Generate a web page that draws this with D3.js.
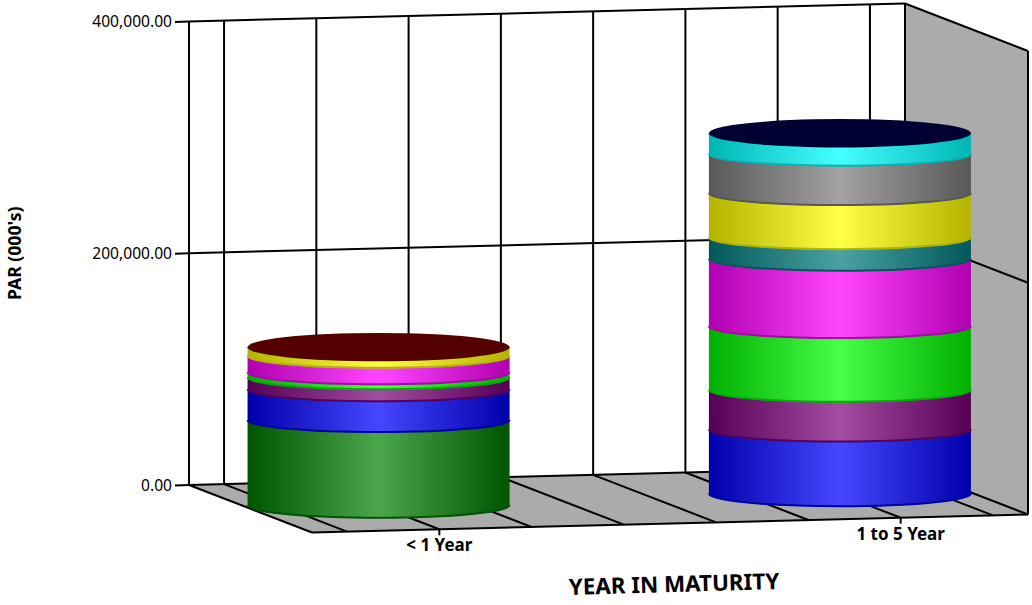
<!DOCTYPE html>
<html>
<head>
<meta charset="utf-8">
<script src="https://cdn.jsdelivr.net/npm/d3@7/dist/d3.min.js"></script>
<style>
  html, body { margin: 0; padding: 0; background: #fff; }
  svg { display: block; }
  text { font-family: "Noto Sans", sans-serif; fill: #000; }
</style>
</head>
<body>
<svg width="1032" height="605"></svg>
<script>
// data
var categories = ["< 1 Year", "1 to 5 Year"];
var categorySlots = [0, 5];
var gridSlots = [-1, 0, 1, 2, 3, 4, 5, 6];
var yTicks = [0, 200000, 400000];

// stacked bottom to top
var darkGreen = [73400, 0];
var blue = [26500, 55200];
var purple = [10400, 34300];
var green = [4300, 54900];
var magenta = [14300, 58200];
var teal = [0, 18600];
var yellow = [7800, 38000];
var gray = [0, 34000];
var cyan = [0, 18100];

var seriesValues = [darkGreen, blue, purple, green, magenta, teal, yellow, gray, cyan];
var edgeColors = ["#005500", "#0000aa", "#550055", "#00b000", "#b000b0", "#005858", "#b4b400", "#585858", "#00b4b4"];
var midColors = ["#4ca64c", "#4646ff", "#a24ca2", "#46ff46", "#ff46ff", "#4ca2a2", "#ffff46", "#a2a2a2", "#46ffff"];
var capColors = ["#550000", "#000033"];

var svg = d3.select("svg");

// oblique box: x along the back wall, z towards the viewer, y up
var x = d3.scaleLinear().domain([-1.38, 6.38]).range([0, 716]);
var y = d3.scaleLinear().domain([0, 400000]).range([0, 463.5]);
var z = d3.scaleLinear().domain([0, 1]).range([0, 123]);
var zDrop = d3.scaleLinear().domain([0, 1]).range([0, 47.5]);
var slope = 18 / 716;

function px(s, d) { return 189 + x(s) + z(d); }
function py(s, d, v) { return 485 - x(s) * slope + zDrop(d) - y(v); }
function pt(s, d, v) { return [px(s, d), py(s, d, v)]; }

var line = d3.line();
var sMin = x.domain()[0], sMax = x.domain()[1];

function poly(points, fill) {
  svg.append("path")
    .attr("d", line(points) + "Z")
    .attr("fill", fill)
    .attr("stroke", "none");
}
function seg(a, b, w) {
  svg.append("path")
    .attr("d", line([a, b]))
    .attr("fill", "none")
    .attr("stroke", "#000")
    .attr("stroke-width", w || 2);
}

// walls and floor
var yMax = yTicks[yTicks.length - 1];
poly([pt(sMax, 0, 0), pt(sMax, 0, yMax), pt(sMax, 1, yMax), pt(sMax, 1, 0)], "#ababab");
poly([pt(sMin, 0, 0), pt(sMax, 0, 0), pt(sMax, 1, 0), pt(sMin, 1, 0)], "#ababab");

gridSlots.concat([sMin, sMax]).forEach(function(s) {
  seg(pt(s, 0, 0), pt(s, 0, yMax));
  if (s !== sMin && s !== sMax) seg(pt(s, 0, 0), pt(s, 1, 0));
});
yTicks.forEach(function(t) {
  seg(pt(sMin, 0, t), pt(sMax, 0, t));
  seg(pt(sMax, 0, t), pt(sMax, 1, t));
  var p = pt(sMin, 0, t);
  seg([p[0] - 14, p[1] + 0.4], p);
  svg.append("text")
    .attr("x", p[0] - 17)
    .attr("y", p[1] + 5.5)
    .attr("text-anchor", "end")
    .style("font-size", "15.6px")
    .text(d3.format(",.2f")(t));
});
seg(pt(sMin, 0, 0), pt(sMin, 1, 0));
seg(pt(sMin, 1, 0), pt(sMax, 1, 0));
seg(pt(sMax, 1, 0), pt(sMax, 1, yMax));

// category ticks and labels
categories.forEach(function(c, i) {
  var p = pt(categorySlots[i], 1, 0);
  seg(p, [p[0], p[1] + 6]);
  svg.append("text")
    .attr("x", p[0])
    .attr("y", p[1] + 22)
    .attr("text-anchor", "middle")
    .style("font-size", "17px")
    .style("font-weight", "bold")
    .text(c);
});

// side shading for each series
var defs = svg.append("defs");
seriesValues.forEach(function(v, i) {
  var g = defs.append("linearGradient").attr("id", "shade" + i);
  g.append("stop").attr("offset", "0%").attr("stop-color", edgeColors[i]);
  g.append("stop").attr("offset", "50%").attr("stop-color", midColors[i]);
  g.append("stop").attr("offset", "100%").attr("stop-color", edgeColors[i]);
});

// cylinders
var radius = 1.42;
var bandRy = 12, baseRy = 12.8, capRy = 14.2;

categories.forEach(function(c, ci) {
  var s = categorySlots[ci];
  var cx = px(s, 0.506);
  var rx = x(s + radius) - x(s);
  var base = 0;

  seriesValues.forEach(function(values, i) {
    var v = values[ci];
    if (!v) return;
    var yBottom = py(s, 0.5, base);
    var yTop = py(s, 0.5, base + v);
    var ry = base === 0 ? baseRy : bandRy;
    var arc = "M" + (cx - rx) + "," + (yBottom - 0.5) + "A" + rx + "," + ry + " 0 0 0 " + (cx + rx) + "," + (yBottom - 0.5);
    svg.append("path")
      .attr("d", "M" + (cx - rx) + "," + yTop + "L" + (cx + rx) + "," + yTop + "L" + (cx + rx) + "," + yBottom +
        "A" + rx + "," + ry + " 0 0 1 " + (cx - rx) + "," + yBottom + "Z")
      .attr("fill", "url(#shade" + i + ")");
    svg.append("path")
      .attr("d", arc)
      .attr("fill", "none")
      .attr("stroke", edgeColors[i])
      .attr("stroke-width", 2);
    base += v;
  });

  svg.append("ellipse")
    .attr("cx", cx)
    .attr("cy", py(s, 0.5, base))
    .attr("rx", rx)
    .attr("ry", capRy)
    .attr("fill", capColors[ci]);
});

// axis titles
svg.append("text")
  .attr("transform", "translate(21,300) rotate(-90)")
  .style("font-size", "17.6px")
  .style("font-weight", "bold")
  .text("PAR (000's)");

svg.append("text")
  .attr("transform", "translate(569,595) rotate(-1.6)")
  .style("font-size", "22.4px")
  .style("font-weight", "bold")
  .text("YEAR IN MATURITY");
</script>
</body>
</html>
